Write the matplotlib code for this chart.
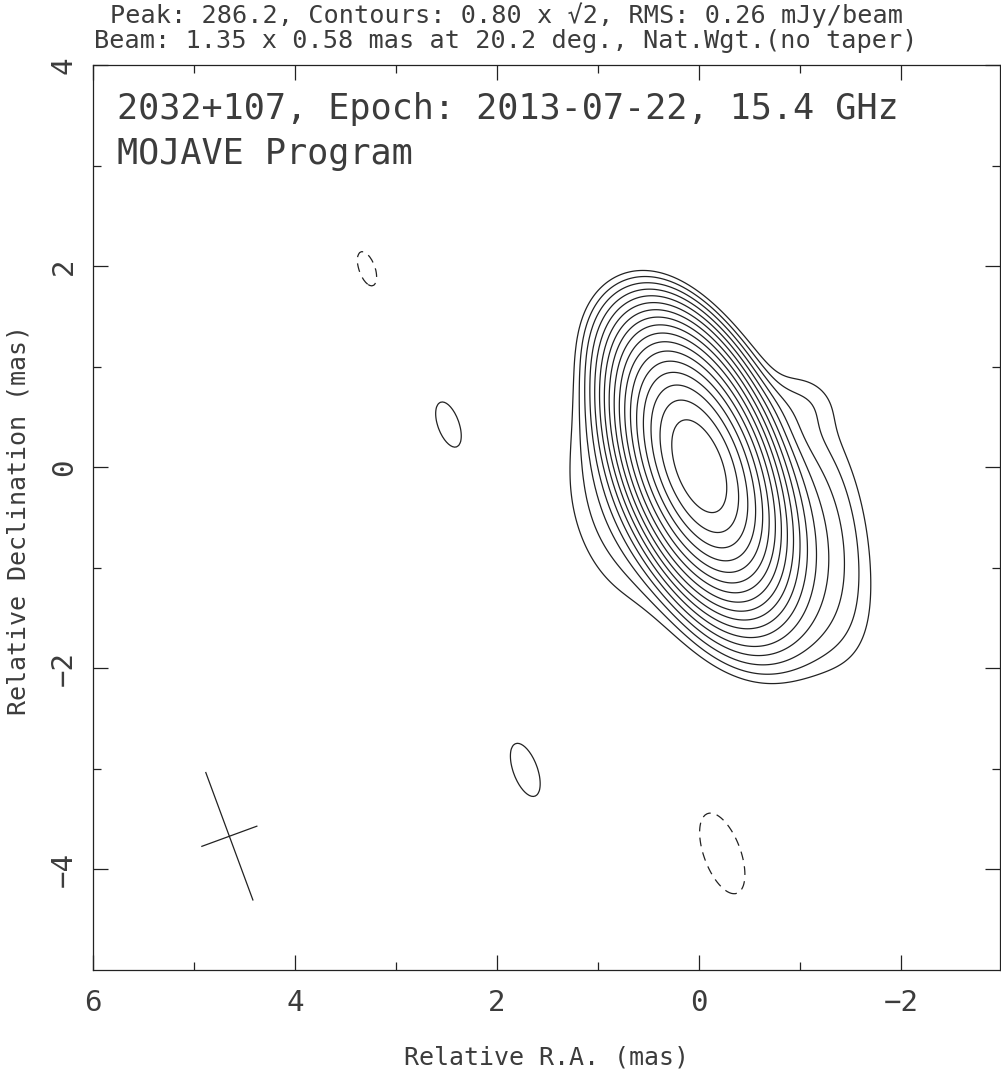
import numpy as np
import matplotlib
matplotlib.use("Agg")
from matplotlib import pyplot as plt

# ---- source model (convolved gaussian components) ----
comp_x = [0.00, 0.00, -0.50, -1.25, 0.85, -0.60, -1.00, 0.95, 2.49, 1.72, 3.28, -0.23]    # RA offset (mas)
comp_y = [0.02, 0.00, -0.70, -0.50, -0.45, -1.70, 0.65, 1.35, 0.44, -3.01, 1.96, -3.84]   # Dec offset (mas)
comp_peak = [190.0, 95.0, 4.0, 1.4, 1.15, 0.5, 0.4, 0.45, 0.88, 0.90, -0.85, -1.05]      # mJy/beam
comp_maj = [1.35, 1.46, 1.60, 2.30, 2.00, 1.40, 0.70, 0.90, 1.35, 1.35, 1.35, 1.35]       # FWHM (mas)
comp_min = [0.62, 0.75, 0.90, 0.80, 1.00, 1.00, 0.50, 0.60, 0.58, 0.58, 0.58, 0.58]
comp_pa = [20.0, 20.0, 20.0, 11.0, 15.0, 90.0, 90.0, 0.0, 20.2, 20.2, 20.2, 20.2]         # deg E of N

peak = 286.2
base = 0.80
rms = 0.26
beam_maj, beam_min, beam_pa = 1.35, 0.58, 20.2
beam_x, beam_y = 4.65, -3.67

x_ticks = [6, 4, 2, 0, -2]
y_ticks = [4, 2, 0, -2, -4]

# ---- build image ----
xg = np.linspace(6.2, -3.2, 471)
yg = np.linspace(-5.2, 4.2, 471)
X, Y = np.meshgrid(xg, yg)
img = np.zeros_like(X)
for cx, cy, p, ma, mi, pa in zip(comp_x, comp_y, comp_peak, comp_maj, comp_min, comp_pa):
    t = np.radians(pa)
    dx, dy = X - cx, Y - cy
    a = dx * np.sin(t) + dy * np.cos(t)
    b = dx * np.cos(t) - dy * np.sin(t)
    sa, sb = ma / 2.3548, mi / 2.3548
    img += p * np.exp(-0.5 * ((a / sa) ** 2 + (b / sb) ** 2))

nlev = int(np.floor(2 * np.log2(peak / base))) + 1
levels = base * np.sqrt(2) ** np.arange(nlev)

W, H = 1001, 1079
fig = plt.figure(figsize=(W / 100, H / 100), dpi=100)
ax = fig.add_axes([93 / W, 1 - 970 / H, 907 / W, 905 / H])

fam = ["DejaVu Sans Mono", "DejaVu Sans"]
ink = "#222222"
tink = "#3c3c3c"

ax.contour(X, Y, img, levels=[-base], colors=ink, linewidths=0.9,
           linestyles=[(0, (7, 5))])
ax.contour(X, Y, img, levels=levels, colors=ink, linewidths=0.9, linestyles="solid")

# beam cross
t = np.radians(beam_pa)
ax.plot([beam_x + beam_maj / 2 * np.sin(t), beam_x - beam_maj / 2 * np.sin(t)],
        [beam_y + beam_maj / 2 * np.cos(t), beam_y - beam_maj / 2 * np.cos(t)],
        color=ink, lw=0.9)
ax.plot([beam_x + beam_min / 2 * np.cos(t), beam_x - beam_min / 2 * np.cos(t)],
        [beam_y - beam_min / 2 * np.sin(t), beam_y + beam_min / 2 * np.sin(t)],
        color=ink, lw=0.9)

ax.set_xlim(6, -2.98)
ax.set_ylim(-5, 4)
ax.set_xticks(x_ticks)
ax.set_yticks(y_ticks)
ax.set_xticks([5, 3, 1, -1], minor=True)
ax.set_yticks([3, 1, -1, -3], minor=True)
ax.tick_params(which="both", direction="in", top=True, right=True, color=ink, width=0.9)
ax.tick_params(which="major", length=11)
ax.tick_params(which="minor", length=5.5)
ax.set_xticklabels([str(v).replace("-", "\u2212") for v in x_ticks], fontsize=21,
                   family=fam, color=tink)
ax.set_yticklabels([str(v).replace("-", "\u2212") for v in y_ticks], fontsize=21,
                   family=fam, color=tink, rotation=90, va="center")
ax.tick_params(axis="x", pad=14)
ax.tick_params(axis="y", pad=11)
for s in ax.spines.values():
    s.set_linewidth(0.9)
    s.set_color(ink)

fig.text(547 / W, 1 - 1057 / H, "Relative R.A. (mas)", ha="center", va="center",
         fontsize=18, family=fam, color=tink)
fig.text(19 / W, 1 - 520 / H, "Relative Declination (mas)", ha="center", va="center",
         rotation=90, fontsize=18, family=fam, color=tink)

fig.text(506 / W, 1 - 15 / H,
         "Peak: %.1f, Contours: %.2f x \u221a2, RMS: %.2f mJy/beam" % (peak, base, rms),
         ha="center", va="center", fontsize=18.2, family=fam, color=tink)
fig.text(506 / W, 1 - 41 / H,
         "Beam: %.2f x %.2f mas at %.1f deg., Nat.Wgt.(no taper)" % (beam_maj, beam_min, beam_pa),
         ha="center", va="center", fontsize=18.2, family=fam, color=tink)
fig.text(117 / W, 1 - 109 / H, "2032+107, Epoch: 2013-07-22, 15.4 GHz",
         ha="left", va="center", fontsize=25.3, family=fam, color=tink)
fig.text(117 / W, 1 - 154 / H, "MOJAVE Program",
         ha="left", va="center", fontsize=25.3, family=fam, color=tink)

fig.savefig("out.png", dpi=100)
